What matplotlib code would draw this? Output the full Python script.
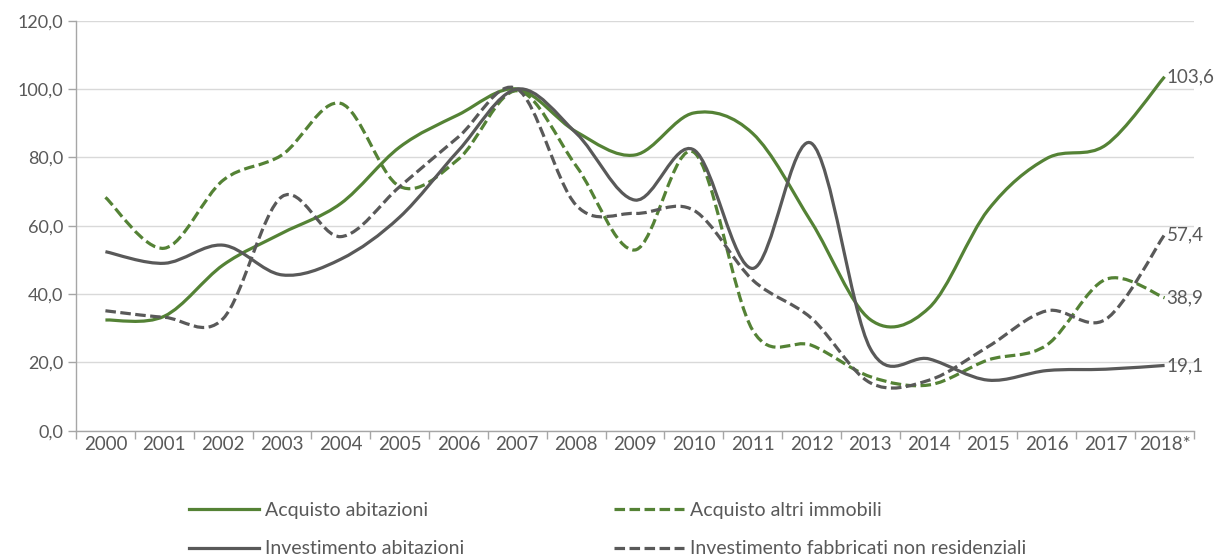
import numpy as np
import matplotlib
matplotlib.use("Agg")
import matplotlib.pyplot as plt
from matplotlib.path import Path
from matplotlib.patches import PathPatch
from matplotlib.lines import Line2D

plt.rcParams['font.family'] = ['Lato', 'DejaVu Sans']

YEARS = [str(y) for y in range(2000, 2018)] + ["2018*"]

acquisto_abitazioni = [32.4, 33.5, 48.5, 57.8, 66.5, 83.0, 92.5, 100.0, 87.5, 80.7,
                       93.0, 87.0, 61.0, 32.5, 36.0, 64.6, 79.7, 83.6, 103.6]
acquisto_altri = [68.3, 53.4, 73.3, 80.7, 95.8, 71.5, 79.5, 99.5, 77.5, 52.9,
                  81.5, 29.4, 25.0, 15.8, 13.4, 20.7, 25.1, 44.3, 38.9]
investimento_abitazioni = [52.4, 49.0, 54.3, 45.6, 50.2, 62.5, 82.0, 100.0, 87.1, 67.5,
                           82.2, 47.5, 84.1, 24.0, 21.0, 14.8, 17.6, 18.0, 19.1]
investimento_non_res = [35.1, 33.2, 32.8, 68.5, 56.8, 71.4, 86.0, 100.0, 66.0, 63.6,
                        64.5, 44.1, 32.9, 14.0, 14.8, 24.6, 35.1, 32.6, 57.4]

GREEN = "#548235"
GREY = "#595959"
TEXT = "#595959"


def smooth_path(xs, ys):
    # Excel-like smoothed line: Catmull-Rom converted to cubic Bezier segments
    pts = np.column_stack([xs, ys]).astype(float)
    n = len(pts)
    verts = [pts[0]]
    codes = [Path.MOVETO]
    for i in range(n - 1):
        p0 = pts[i - 1] if i > 0 else pts[i]
        p1 = pts[i]
        p2 = pts[i + 1]
        p3 = pts[i + 2] if i + 2 < n else pts[i + 1]
        c1 = p1 + (p2 - p0) / 6.0
        c2 = p2 - (p3 - p1) / 6.0
        verts += [c1, c2, p2]
        codes += [Path.CURVE4] * 3
    return Path(verts, codes)


series = [
    ("Acquisto abitazioni", acquisto_abitazioni, GREEN, "-"),
    ("Acquisto altri immobili", acquisto_altri, GREEN, (0, (3.3, 1.4))),
    ("Investimento abitazioni", investimento_abitazioni, GREY, "-"),
    ("Investimento fabbricati non residenziali", investimento_non_res, GREY, (0, (3.3, 1.4))),
]

fig = plt.figure(figsize=(12.2, 5.58), dpi=100)
ax = fig.add_axes([76 / 1220, 1 - 430.7 / 558, (1194 - 76) / 1220, (430.7 - 20.7) / 558])

x = np.arange(len(YEARS))
handles = {}
for name, vals, col, ls in series:
    patch = PathPatch(smooth_path(x, vals), facecolor="none", edgecolor=col,
                      linewidth=2.3, linestyle=ls, capstyle="butt", zorder=3)
    ax.add_patch(patch)
    handles[name] = Line2D([], [], color=col, linewidth=2.3, linestyle=ls)

# end-of-line labels
for vals, lab in [(acquisto_abitazioni, "103,6"), (acquisto_altri, "38,9"),
                  (investimento_abitazioni, "19,1"), (investimento_non_res, "57,4")]:
    ax.annotate(lab, (x[-1], vals[-1]), xytext=(1.5, 0), textcoords="offset points",
                ha="left", va="center", fontsize=13.5, color=TEXT, annotation_clip=False)

ax.set_xlim(-0.5, len(YEARS) - 0.5)
ax.set_ylim(0, 120)
ax.set_yticks(range(0, 121, 20))
ax.set_yticklabels([f"{v:.1f}".replace(".", ",") for v in range(0, 121, 20)])
ax.set_xticks(x)
ax.set_xticklabels(YEARS)
ax.set_xticks(np.arange(-0.5, len(YEARS), 1.0), minor=True)
ax.tick_params(axis="x", which="major", length=0, pad=4, labelsize=13.5, labelcolor=TEXT)
ax.tick_params(axis="x", which="minor", length=6, color="#a6a6a6", width=1)
ax.tick_params(axis="y", length=6, color="#a6a6a6", width=1, pad=3, labelsize=13, labelcolor=TEXT)

ax.grid(axis="y", color="#d9d9d9", linewidth=1, zorder=0)
ax.set_axisbelow(True)
for s in ["top", "right"]:
    ax.spines[s].set_visible(False)
for s in ["left", "bottom"]:
    ax.spines[s].set_color("#a6a6a6")
    ax.spines[s].set_linewidth(1)

order = ["Acquisto abitazioni", "Investimento abitazioni",
         "Acquisto altri immobili", "Investimento fabbricati non residenziali"]
fig.legend([handles[k] for k in order], order, ncol=2, frameon=False,
           loc="upper left", bbox_to_anchor=(189 / 1220, 1 - 502 / 558),
           fontsize=14, labelcolor=TEXT, handlelength=3.6, handletextpad=0.3,
           columnspacing=7.7, labelspacing=1.1, borderaxespad=0, borderpad=0)

fig.savefig("out.png", dpi=100)
